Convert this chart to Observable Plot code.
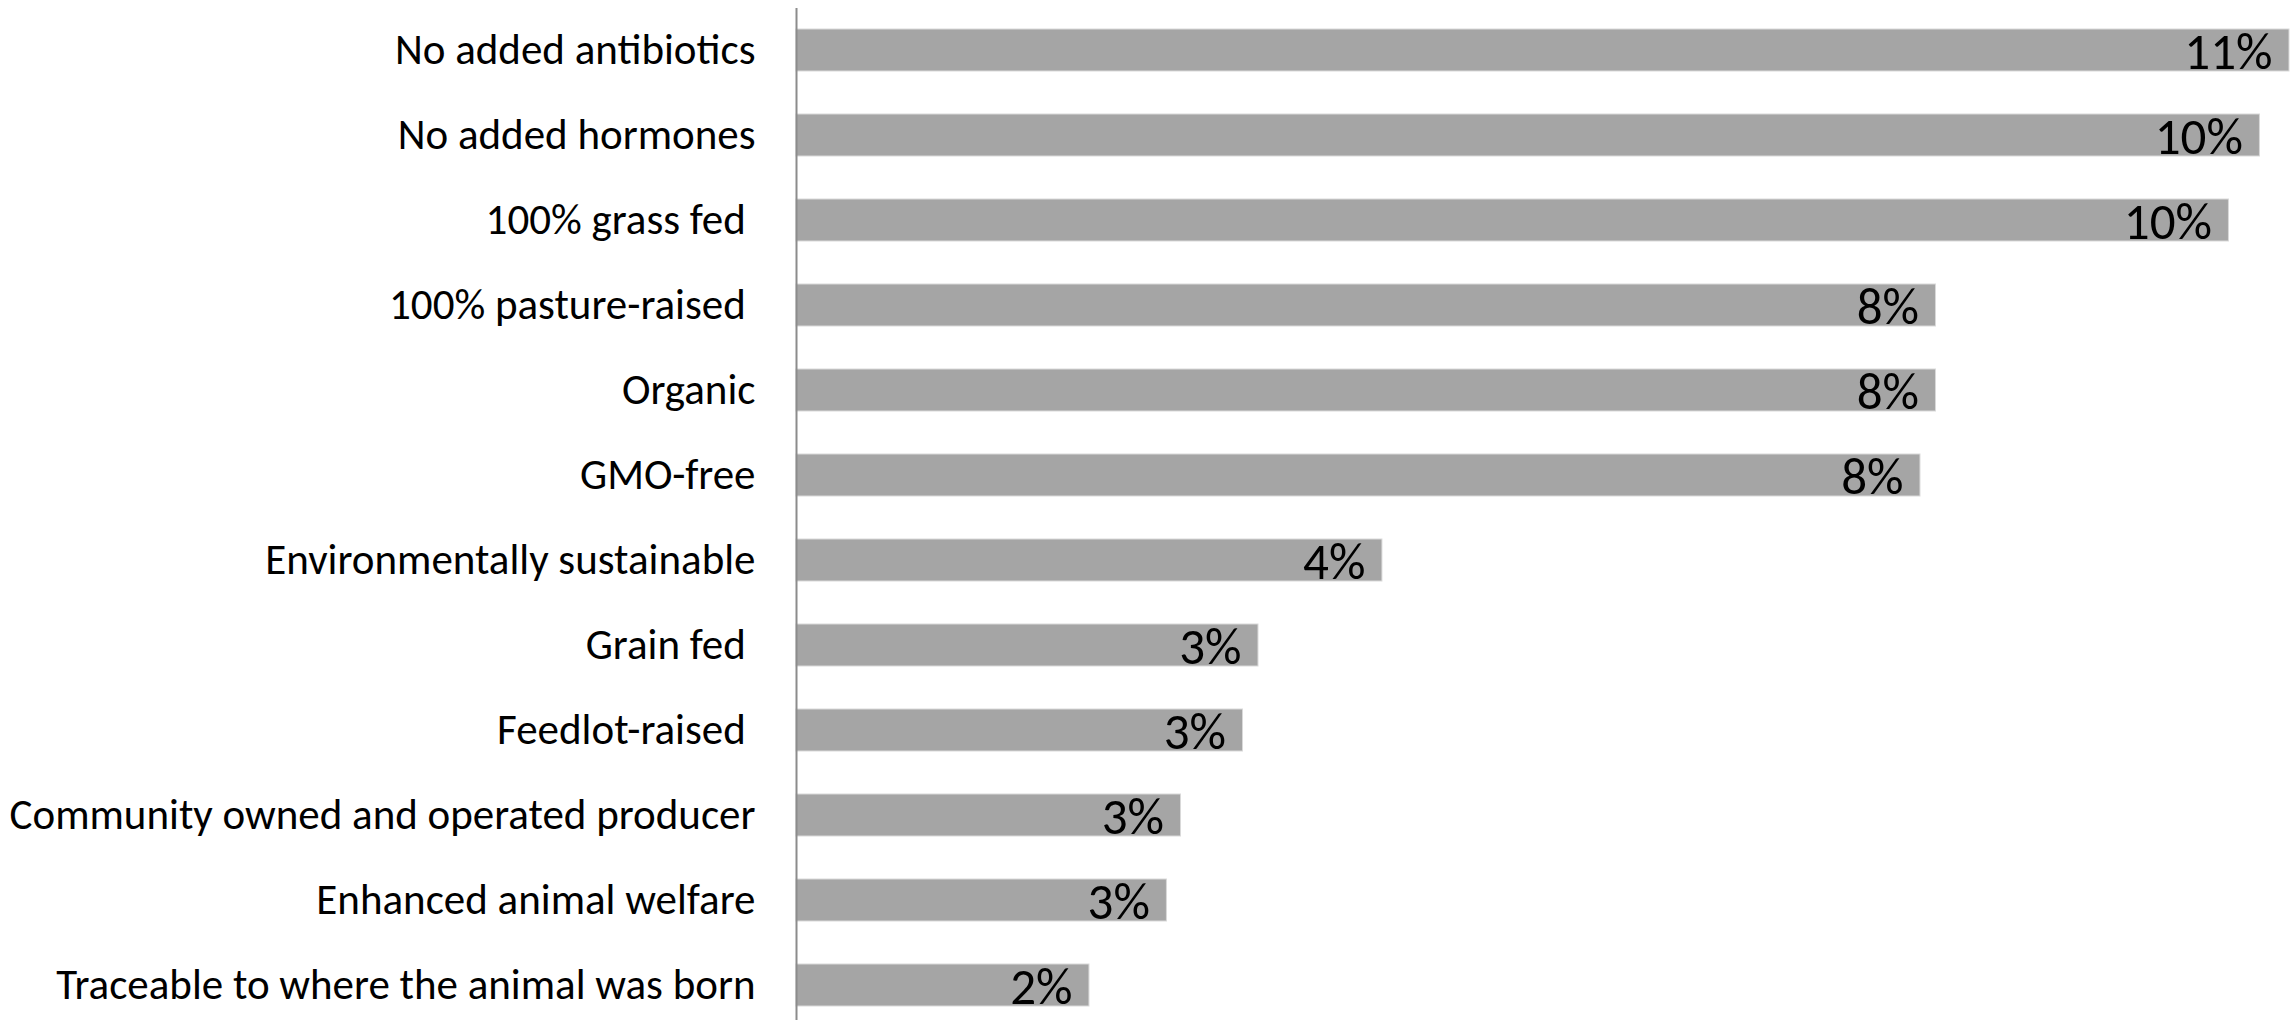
<!DOCTYPE html>
<html>
<head>
<meta charset="utf-8">
<script src="https://cdn.jsdelivr.net/npm/d3@7"></script>
<script src="https://cdn.jsdelivr.net/npm/@observablehq/plot@0.6"></script>
<style>
  html, body { margin: 0; padding: 0; background: #fff; }
  #chart svg { display: block; }
</style>
</head>
<body>
<div id="chart"></div>
<script>
const categories = [
  "No added antibiotics",
  "No added hormones",
  "100% grass fed\u00a0",
  "100% pasture-raised\u00a0",
  "Organic",
  "GMO-free",
  "Environmentally sustainable",
  "Grain fed\u00a0",
  "Feedlot-raised\u00a0",
  "Community owned and operated producer",
  "Enhanced animal welfare",
  "Traceable to where the animal was born"
];
const values = [10.6, 10.39, 10.17, 8.09, 8.09, 7.98, 4.16, 3.28, 3.17, 2.73, 2.63, 2.08];

const data = categories.map((c, i) => ({category: c, value: values[i]}));
const FONT = "Carlito, Calibri, Lato, 'Open Sans', sans-serif";

const chart = Plot.plot({
  width: 2294,
  height: 1020,
  marginLeft: 796,
  marginRight: 5,
  marginTop: 8,
  marginBottom: 0,
  style: {fontFamily: FONT, background: "#fff", color: "#000"},
  x: {domain: [0, 10.6], axis: null},
  y: {domain: categories, range: [29, 1006], paddingInner: 43 / 85, paddingOuter: 0, label: null},
  marks: [
    Plot.barX(data, {y: "category", x: "value", fill: "#a5a5a5", stroke: "#d9d9d9", strokeWidth: 1}),
    Plot.ruleX([0], {stroke: "#8c8c8c", strokeWidth: 2}),
    Plot.axisY({tickSize: 0, tickPadding: 41, fontSize: 43, fill: "#000", label: null}),
    Plot.text(data, {y: "category", x: "value", text: d => Math.round(d.value) + "%",
      textAnchor: "end", dx: -17, dy: 2, fontSize: 51, fill: "#000"})
  ]
});
document.getElementById("chart").appendChild(chart);
</script>
</body>
</html>
